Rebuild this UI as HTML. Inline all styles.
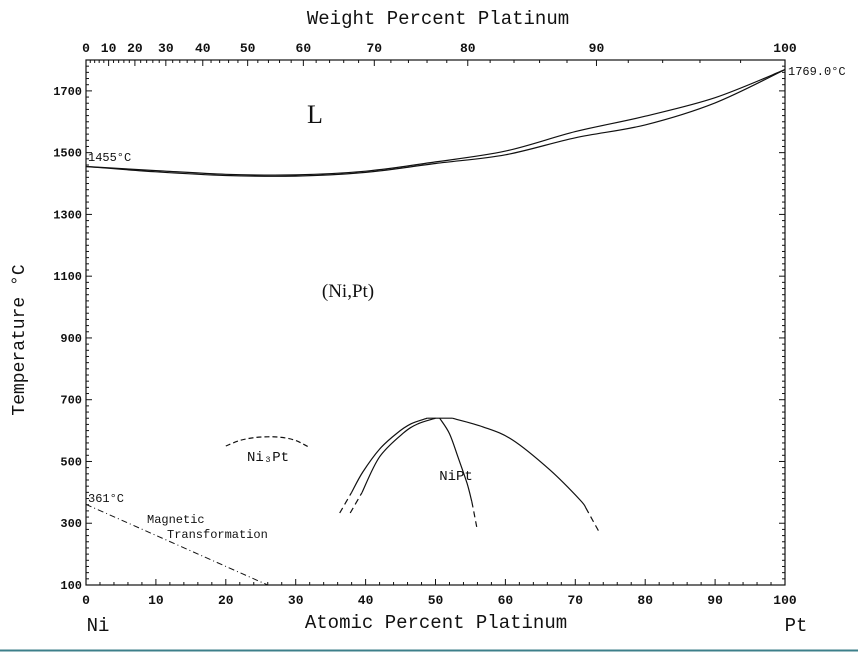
<!DOCTYPE html>
<html><head><meta charset="utf-8">
<style>
html,body{margin:0;padding:0;background:#fff;}
svg{display:block;}
text{font-family:"Liberation Mono",monospace;fill:#111;}
</style></head>
<body>
<svg id="chart" width="858" height="653" viewBox="0 0 858 653" xmlns="http://www.w3.org/2000/svg">
<rect x="0" y="0" width="858" height="653" fill="#fff"/>
<line x1="0" y1="650.5" x2="858" y2="650.5" stroke="#3c7f8a" stroke-width="2"/>
<g id="axes"></g>
<g id="marks"></g>
<g id="labels"></g>
</svg>
<script>
// ---- data ----
const xTicks = [0,10,20,30,40,50,60,70,80,90,100];
const yTicks = [100,300,500,700,900,1100,1300,1500,1700];
const wtTicks = [0,10,20,30,40,50,60,70,80,90,100];
const liqX = [0,10,20,30,40,50,60,70,80,90,100];
const liqT = [1455,1442,1430,1428,1440,1470,1505,1568,1618,1678,1769];
const solX = [0,10,20,30,40,50,60,70,80,90,100];
const solT = [1455,1438,1426,1424,1436,1465,1493,1548,1590,1661,1769];
const outerLX = [38,39.6,42,44.5,46.5,48.8];
const outerLT = [400,466,540,592,622,640];
const outerLDashX = [36.3,38];
const outerLDashT = [333,400];
const innerLX = [39.5,42,45.4,47.5,50];
const innerLT = [400,515,592,622,640];
const innerLDashX = [37.8,39.5];
const innerLDashT = [333,400];
const topX = [48.8,52.4];
const topT = [640,640];
const innerRX = [50.6,52,53.2,54.5,55.2];
const innerRT = [640,590,515,430,370];
const innerRDashX = [55.2,55.9];
const innerRDashT = [370,288];
const outerRX = [52.4,56.8,61,66.4,70.7,71.5];
const outerRT = [640,612,570,472,375,350];
const outerRDashX = [71.5,73.5];
const outerRDashT = [350,268];
const ni3PtX = [20,22,24,26,28,30,32];
const ni3PtT = [550,568,577,580,578,568,545];
const magX = [0,26];
const magT = [361,100];

// ---- scales ----
const X0=86, X1=785, Y0=585, Y1=60;
const TMIN=100, TMAX=1800;
const sx = v => X0 + (v/100)*(X1-X0);
const sy = t => Y0 - (t-TMIN)/(TMAX-TMIN)*(Y0-Y1);
const wtToAt = w => { if(w>=100) return 100; const a=w/195.08, b=(100-w)/58.69; return 100*a/(a+b); };

const NS="http://www.w3.org/2000/svg";
function mk(tag, parent){ const e=document.createElementNS(NS,tag); parent.appendChild(e); return e; }
const axes=document.getElementById('axes'), marks=document.getElementById('marks'), labels=document.getElementById('labels');

const fr=mk('rect',axes);
fr.setAttribute('x',X0);fr.setAttribute('y',Y1);fr.setAttribute('width',X1-X0);fr.setAttribute('height',Y0-Y1);
fr.setAttribute('fill','none');fr.setAttribute('stroke','#111');fr.setAttribute('stroke-width','1.2');



function tick(x1,y1,x2,y2,name){
  const l=mk('line',axes);
  l.setAttribute('x1',x1);l.setAttribute('y1',y1);l.setAttribute('x2',x2);l.setAttribute('y2',y2);
  l.setAttribute('stroke','#111');l.setAttribute('stroke-width','1');
  
  
}
function txt(x,y,s,size,anchor,name,parent){
  const t=mk('text',parent||labels);
  t.setAttribute('x',x);t.setAttribute('y',y);t.setAttribute('font-size',size);
  t.setAttribute('text-anchor',anchor||'middle');t.textContent=s;
  
  
  return t;
}
for(let v=0;v<=100;v+=2){
  const major=v%10===0;
  tick(sx(v),Y0,sx(v),Y0-(major?6:3),'x-tick');
}
xTicks.forEach(v=>{const t=txt(sx(v),604,String(v),13,'middle','x-tick-label');t.setAttribute('font-weight','bold');});
for(let t=100;t<=1800;t+=20){
  const major=(t-100)%200===0;
  tick(X0,sy(t),X0+(major?6:3),sy(t),'y-tick');
  tick(X1,sy(t),X1-(major?6:3),sy(t),'y-tick-right');
}
yTicks.forEach(t=>{const e=txt(X0-4,sy(t)+4,String(t),12,'end','y-tick-label');e.setAttribute('font-weight','bold');});
for(let w=0;w<=100;w+=2){
  const major=w%10===0;
  tick(sx(wtToAt(w)),Y1,sx(wtToAt(w)),Y1+(major?6:3),'top-tick');
}
wtTicks.forEach(w=>{const e=txt(sx(wtToAt(w)),52,String(w),13,'middle','top-tick-label');e.setAttribute('font-weight','bold');});

// smooth path via Catmull-Rom
function path(xs,ts,name,dash,w){
  const P=xs.map((x,i)=>[sx(x),sy(ts[i])]);
  let d='M'+P[0][0].toFixed(1)+','+P[0][1].toFixed(1);
  for(let i=0;i<P.length-1;i++){
    const p0=P[i-1]||P[i],p1=P[i],p2=P[i+1],p3=P[i+2]||P[i+1];
    const c1=[p1[0]+(p2[0]-p0[0])/6,p1[1]+(p2[1]-p0[1])/6];
    const c2=[p2[0]-(p3[0]-p1[0])/6,p2[1]-(p3[1]-p1[1])/6];
    d+=' C'+c1.map(v=>v.toFixed(1)).join(',')+' '+c2.map(v=>v.toFixed(1)).join(',')+' '+p2[0].toFixed(1)+','+p2[1].toFixed(1);
  }
  const p=mk('path',marks);
  p.setAttribute('d',d);
  p.setAttribute('fill','none');p.setAttribute('stroke','#111');p.setAttribute('stroke-width',w||'1.2');
  if(dash)p.setAttribute('stroke-dasharray',dash);
  
  
}
path(liqX,liqT,'liquidus-line');
path(solX,solT,'solidus-line');
path(outerLX,outerLT,'nipt-outer-left-boundary');
path(outerLDashX,outerLDashT,'nipt-outer-left-dashed','6,4');
path(innerLX,innerLT,'nipt-inner-left-boundary');
path(innerLDashX,innerLDashT,'nipt-inner-left-dashed','6,4');
path(topX,topT,'nipt-congruent-top');
path(innerRX,innerRT,'nipt-inner-right-boundary');
path(innerRDashX,innerRDashT,'nipt-inner-right-dashed','6,4');
path(outerRX,outerRT,'nipt-outer-right-boundary');
path(outerRDashX,outerRDashT,'nipt-outer-right-dashed','6,4');
path(ni3PtX,ni3PtT,'ni3pt-boundary','5,3');
path(magX,magT,'magnetic-transformation-line','6,3,1,3',1);

txt(438,24,'Weight Percent Platinum',19,'middle','top-axis-title');
txt(436,628,'Atomic Percent Platinum',19,'middle','x-axis-title');
txt(98,631,'Ni',19,'middle','ni-label');
txt(796,631,'Pt',19,'middle','pt-label');
const yt=txt(24,340,'Temperature °C',18,'middle','y-axis-title');
yt.setAttribute('transform','rotate(-90 24 340)');
const L=txt(315,123,'L',26,'middle','liquid-region-label'); L.style.fontFamily='"Liberation Serif",serif';
const s1=txt(348,297,'(Ni,Pt)',19,'middle','solid-solution-label'); s1.style.fontFamily='"Liberation Serif",serif';
txt(268,461,'Ni₃Pt',14,'middle','ni3pt-label');
txt(456,480,'NiPt',14,'middle','nipt-label');
txt(88,161,'1455°C',12,'start','ni-melting-label');
txt(788,75,'1769.0°C',12,'start','pt-melting-label');
txt(88,502,'361°C',12,'start','curie-temp-label');
txt(147,523,'Magnetic',12,'start','magnetic-label');
txt(167,538,'Transformation',12,'start','transformation-label');
</script>
</body></html>
